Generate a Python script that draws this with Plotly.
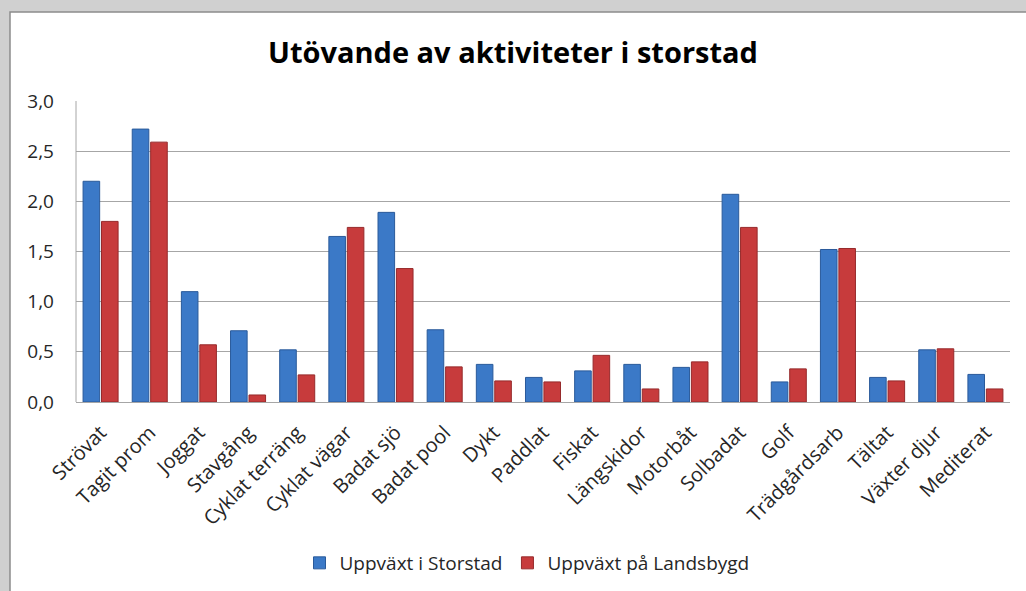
import plotly.graph_objects as go

categories = ["Strövat", "Tagit prom", "Joggat", "Stavgång", "Cyklat terräng",
              "Cyklat vägar", "Badat sjö", "Badat pool", "Dykt", "Paddlat",
              "Fiskat", "Längskidor", "Motorbåt", "Solbadat", "Golf",
              "Trädgårdsarb", "Tältat", "Växter djur", "Mediterat"]
storstad = [2.20, 2.72, 1.10, 0.71, 0.52, 1.65, 1.89, 0.72, 0.375, 0.245,
            0.31, 0.375, 0.345, 2.07, 0.20, 1.52, 0.245, 0.52, 0.275]
landsbygd = [1.80, 2.59, 0.57, 0.07, 0.27, 1.74, 1.33, 0.35, 0.21, 0.20,
             0.465, 0.13, 0.40, 1.74, 0.33, 1.53, 0.21, 0.53, 0.13]
y_ticks = [0, 0.5, 1.0, 1.5, 2.0, 2.5, 3.0]
series_names = ["Uppväxt i Storstad", "Uppväxt på Landsbygd"]

FONT = "Open Sans"
TXT = "#262626"

fig = go.Figure()
fig.add_trace(go.Bar(x=categories, y=storstad, name=series_names[0],
                     marker=dict(color="#3b79c7", line=dict(color="#2a5a9a", width=1))))
fig.add_trace(go.Bar(x=categories, y=landsbygd, name=series_names[1],
                     marker=dict(color="#c73b3c", line=dict(color="#962a2b", width=1))))

L, R, T, B = 76, 16, 101, 189
W, H = 1026, 591
pw, ph = W - L - R, H - T - B

def px2x(p):
    return (p - L) / pw

def py2y(p):
    return (H - B - p) / ph

fig.update_layout(
    width=W, height=H,
    margin=dict(l=L, r=R, t=T, b=B, autoexpand=False),
    paper_bgcolor="#d0d0d0",
    plot_bgcolor="white",
    separators=",.",
    barmode="group", bargap=0.25, bargroupgap=0.1,
    font=dict(family=FONT, size=19, color=TXT),
    title=dict(text="<b>Utövande av aktiviteter i storstad</b>",
               x=0.5, xanchor="center", y=1 - 53 / H, yanchor="middle",
               font=dict(family=FONT, size=29, color="black")),
    legend=dict(orientation="h", x=px2x(527), xanchor="center", y=py2y(563), yanchor="middle",
                font=dict(family=FONT, size=19, color=TXT), bgcolor="rgba(0,0,0,0)",
                itemwidth=30, traceorder="normal"),
    showlegend=True,
    shapes=[dict(type="rect", xref="paper", yref="paper",
                 x0=px2x(10), x1=px2x(1040), y0=py2y(600), y1=py2y(12),
                 fillcolor="white", line=dict(color="#8c8c8c", width=1.5), layer="below")],
)
fig.update_yaxes(range=[0, 3], tickvals=y_ticks, tickformat=".1f", automargin=False,
                 showgrid=True, gridcolor="#a6a6a6", gridwidth=1,
                 zeroline=False, showline=False, ticks="", ticklabelstandoff=21,
                 tickfont=dict(family=FONT, size=19, color=TXT))
fig.update_xaxes(tickangle=-45, showline=True, linecolor="#a6a6a6", linewidth=1,
                 automargin=False, ticks="", ticklabelstandoff=10,
                 tickfont=dict(family=FONT, size=20, color=TXT))
fig.add_shape(type="line", xref="paper", yref="paper", x0=0, x1=0, y0=0, y1=1,
              line=dict(color="#a6a6a6", width=1))

fig.write_html("out.html", config={"displayModeBar": False},
               post_script="document.body.style.margin='0';document.body.style.background='#d0d0d0';")
